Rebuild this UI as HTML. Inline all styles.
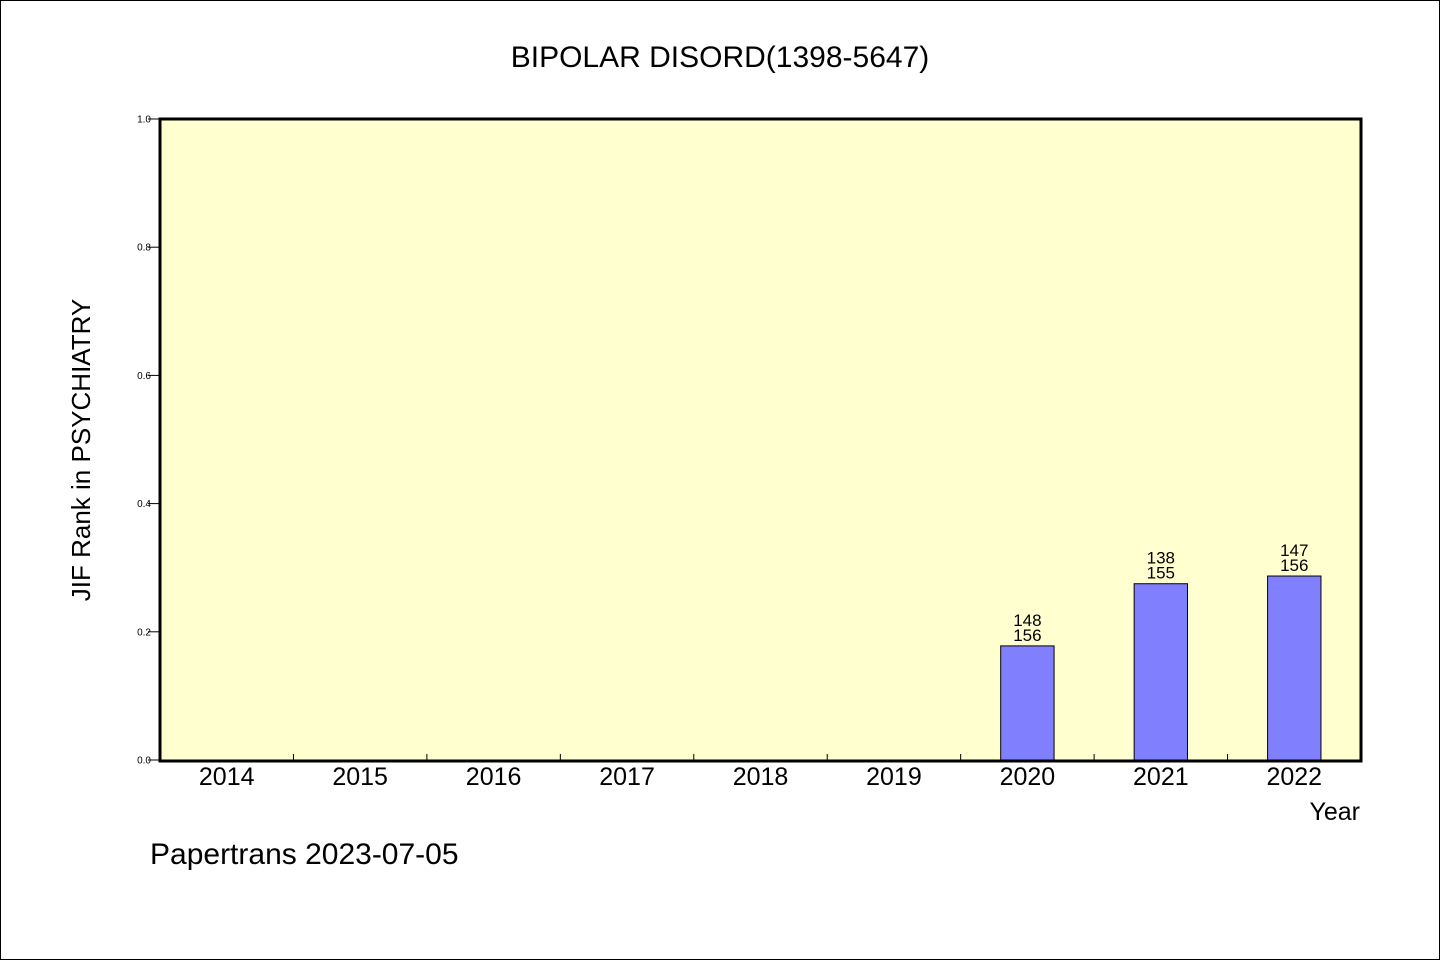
<!DOCTYPE html>
<html><head><meta charset="utf-8">
<style>
html,body{margin:0;padding:0;background:#fff}
svg{display:block}
text{font-family:"WenQuanYi Zen Hei","Liberation Sans",sans-serif;fill:#000}
</style></head>
<body>
<svg id="chart" width="1440" height="960" viewBox="0 0 1440 960">
<rect x="0.5" y="0.5" width="1439" height="959" fill="#fff" stroke="#000"/>
<text x="720" y="67" font-size="30" text-anchor="middle">BIPOLAR DISORD(1398-5647)</text>
<rect x="160" y="119" width="1201" height="642" fill="#ffffd0"/>
<g id="ticks"></g>
<g id="bars"></g>
<rect x="160" y="119" width="1201" height="642" fill="none" stroke="#000" stroke-width="3"/>
<text transform="translate(90,450) rotate(-90)" font-size="26" text-anchor="middle">JIF Rank in PSYCHIATRY</text>
<text x="1360" y="820" font-size="25" text-anchor="end">Year</text>
<text x="150" y="864" font-size="30">Papertrans 2023-07-05</text>
</svg>
<script>
const categories = ["2014","2015","2016","2017","2018","2019","2020","2021","2022"];
const values = [null,null,null,null,null,null,0.178,0.275,0.287];
const rankLabels = [null,null,null,null,null,null,"148","138","147"];
const totalLabels = [null,null,null,null,null,null,"156","155","156"];
const yTicks = [0,0.2,0.4,0.6,0.8,1.0];
const tickLabels = ["0.0","0.2","0.4","0.6","0.8","1.0"];

const L=160,R=1361,T=119,B=760;
const band=(R-L)/categories.length;
const x=i=>L+band*i;
const y=v=>B-(B-T)*v;
const NS="http://www.w3.org/2000/svg";
const tg=document.getElementById('ticks'), bg=document.getElementById('bars');
function mk(tag,attrs,parent){const e=document.createElementNS(NS,tag);for(const k in attrs)e.setAttribute(k,attrs[k]);parent.appendChild(e);return e;}

yTicks.forEach((v,i)=>{
  const l=mk('line',{x1:L-12,x2:L,y1:y(v),y2:y(v),stroke:'#000','stroke-width':1},tg);
  
  
  const t=mk('text',{x:L-9,y:y(v)+3.5,'font-size':10,'text-anchor':'end'},tg);
  t.textContent=tickLabels[i];
  
  
});
categories.forEach((c,i)=>{
  if(i>0){
    const l=mk('line',{x1:x(i),x2:x(i),y1:B,y2:B-6,stroke:'#000','stroke-width':1},tg);
    
    
  }
  const t=mk('text',{x:x(i)+band/2,y:B+25,'font-size':25,'text-anchor':'middle'},tg);
  t.textContent=c;
  
  
  const v=values[i];
  if(v!=null){
    const w=band*0.4, cx=x(i)+band/2;
    const r=mk('rect',{x:cx-w/2,y:y(v),width:w,height:B-y(v),fill:'#8080ff',stroke:'#000','stroke-width':1},bg);
    
    
    const t1=mk('text',{x:cx,y:y(v)-20,'font-size':17,'text-anchor':'middle'},bg);
    t1.textContent=rankLabels[i];
    
    
    const t2=mk('text',{x:cx,y:y(v)-5,'font-size':17,'text-anchor':'middle'},bg);
    t2.textContent=totalLabels[i];
    
    
  }
});
</script>
</body></html>
